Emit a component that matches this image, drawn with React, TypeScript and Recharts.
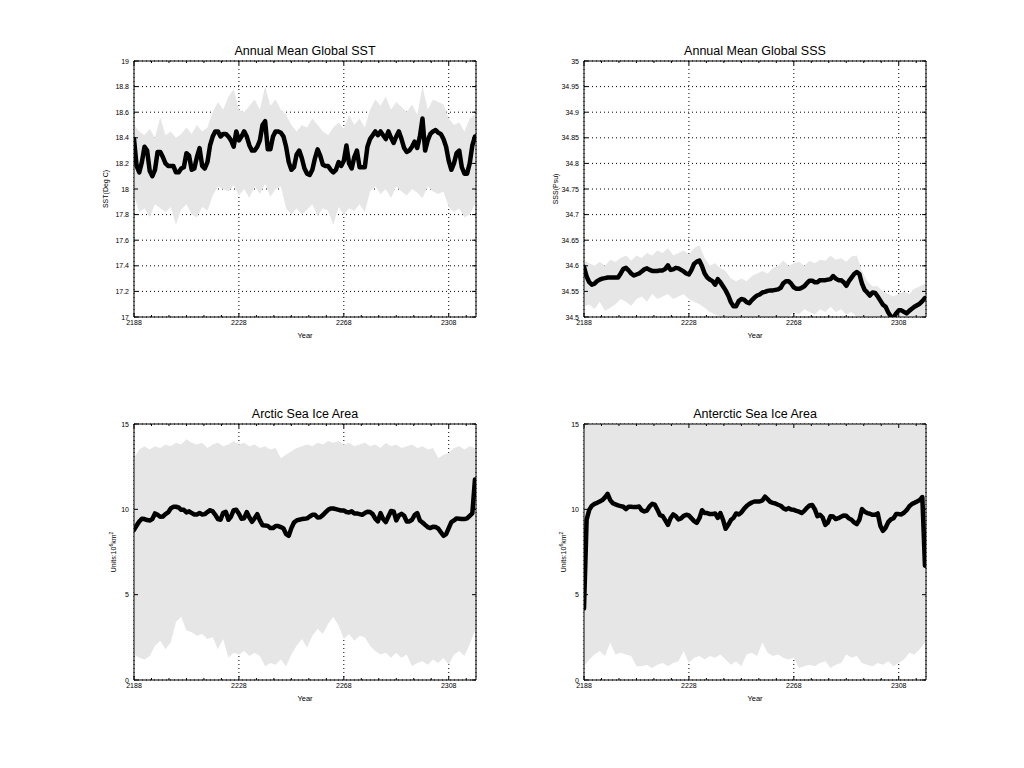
import React from 'react';
import { ComposedChart, Line, Area, XAxis, YAxis, CartesianGrid } from 'recharts';

// ---------- shared axis data ----------
const START_YEAR = 2188;
const X_DOMAIN: [number, number] = [2188, 2318.4];
const X_MAJOR = [2188, 2228, 2268, 2308];
const X_MINOR = [2194.67, 2201.33, 2208, 2214.67, 2221.33, 2234.67, 2241.33, 2248, 2254.67, 2261.33,
  2274.67, 2281.33, 2288, 2294.67, 2301.33, 2314.67];

const SST_TICKS = [17, 17.2, 17.4, 17.6, 17.8, 18, 18.2, 18.4, 18.6, 18.8, 19];
const SSS_TICKS = [34.5, 34.55, 34.6, 34.65, 34.7, 34.75, 34.8, 34.85, 34.9, 34.95, 35];
const ICE_TICKS = [0, 5, 10, 15];

// ---------- smoothed (black) series, one value per year from 2188 ----------
const SST_LINE = [
  18.39, 18.18, 18.13, 18.21, 18.33, 18.30, 18.14, 18.10, 18.15, 18.29,
  18.29, 18.25, 18.20, 18.18, 18.18, 18.18, 18.13, 18.13, 18.16, 18.17,
  18.28, 18.26, 18.15, 18.16, 18.25, 18.32, 18.18, 18.16, 18.21, 18.34,
  18.41, 18.45, 18.45, 18.41, 18.43, 18.43, 18.41, 18.38, 18.33, 18.45,
  18.38, 18.41, 18.45, 18.41, 18.34, 18.30, 18.30, 18.33, 18.38, 18.50,
  18.53, 18.31, 18.31, 18.41, 18.45, 18.45, 18.44, 18.41, 18.33, 18.21,
  18.15, 18.17, 18.27, 18.30, 18.24, 18.16, 18.12, 18.11, 18.15, 18.24,
  18.31, 18.26, 18.19, 18.18, 18.18, 18.15, 18.13, 18.15, 18.21, 18.18,
  18.22, 18.34, 18.20, 18.16, 18.25, 18.30, 18.17, 18.17, 18.17, 18.33,
  18.39, 18.42, 18.45, 18.42, 18.45, 18.42, 18.39, 18.45, 18.40, 18.36,
  18.41, 18.45, 18.39, 18.32, 18.29, 18.30, 18.33, 18.37, 18.32, 18.41,
  18.55, 18.30, 18.38, 18.43, 18.45, 18.46, 18.44, 18.43, 18.39, 18.33,
  18.22, 18.15, 18.20, 18.28, 18.30, 18.17, 18.12, 18.12, 18.20, 18.34,
  18.41,
];

const SSS_LINE = [
  34.598, 34.579, 34.568, 34.563, 34.565, 34.570, 34.573, 34.575, 34.576, 34.577,
  34.577, 34.577, 34.577, 34.577, 34.585, 34.594, 34.596, 34.591, 34.585, 34.581,
  34.583, 34.585, 34.589, 34.593, 34.595, 34.592, 34.590, 34.590, 34.590, 34.591,
  34.591, 34.594, 34.601, 34.592, 34.593, 34.596, 34.595, 34.592, 34.589, 34.585,
  34.583, 34.592, 34.604, 34.608, 34.610, 34.599, 34.585, 34.577, 34.573, 34.570,
  34.563, 34.574, 34.568, 34.560, 34.552, 34.542, 34.529, 34.521, 34.521, 34.531,
  34.535, 34.534, 34.529, 34.527, 34.533, 34.538, 34.542, 34.544, 34.548, 34.549,
  34.551, 34.552, 34.552, 34.553, 34.554, 34.557, 34.566, 34.570, 34.570, 34.565,
  34.558, 34.555, 34.555, 34.557, 34.560, 34.566, 34.571, 34.571, 34.568, 34.568,
  34.572, 34.572, 34.572, 34.573, 34.574, 34.580, 34.575, 34.572, 34.572, 34.568,
  34.561, 34.570, 34.577, 34.584, 34.588, 34.584, 34.565, 34.553, 34.548, 34.542,
  34.548, 34.547, 34.540, 34.532, 34.524, 34.520, 34.509, 34.501, 34.499, 34.507,
  34.513, 34.513, 34.510, 34.507, 34.512, 34.516, 34.520, 34.523, 34.526, 34.531,
  34.537,
];

const ARCTIC_LINE = [
  8.80, 9.05, 9.29, 9.45, 9.43, 9.37, 9.35, 9.43, 9.76, 9.68,
  9.56, 9.58, 9.72, 9.82, 10.05, 10.15, 10.15, 10.11, 9.97, 9.97,
  9.82, 9.88, 9.78, 9.70, 9.70, 9.78, 9.70, 9.72, 9.84, 9.95,
  9.88, 9.68, 9.43, 9.39, 9.80, 9.86, 9.39, 9.58, 9.95, 9.97,
  9.74, 9.45, 9.48, 9.84, 9.52, 9.27, 9.48, 9.72, 9.35, 9.07,
  9.05, 9.03, 8.90, 8.90, 9.02, 9.02, 8.96, 8.88, 8.55, 8.45,
  8.90, 9.23, 9.35, 9.39, 9.43, 9.45, 9.47, 9.58, 9.68, 9.68,
  9.52, 9.54, 9.66, 9.82, 9.97, 10.05, 10.05, 10.01, 9.97, 9.93,
  9.93, 9.84, 9.82, 9.88, 9.76, 9.76, 9.72, 9.68, 9.78, 9.86,
  9.84, 9.72, 9.45, 9.29, 9.78, 9.43, 9.25, 9.58, 9.90, 9.88,
  9.35, 9.64, 9.74, 9.62, 9.29, 9.29, 9.39, 9.66, 9.78, 9.35,
  9.23, 9.09, 8.96, 8.90, 8.98, 8.96, 8.88, 8.66, 8.45, 8.55,
  8.90, 9.25, 9.35, 9.47, 9.45, 9.43, 9.43, 9.47, 9.62, 9.76,
  11.75,
];

const ANTARCTIC_LINE = [
  4.20, 9.40, 9.97, 10.21, 10.32, 10.38, 10.46, 10.54, 10.70, 10.91,
  10.54, 10.36, 10.29, 10.23, 10.19, 10.15, 10.01, 10.15, 10.15, 10.13,
  10.13, 10.17, 9.95, 9.88, 9.93, 10.17, 10.32, 10.27, 9.97, 9.66,
  9.60, 9.35, 9.09, 9.48, 9.70, 9.60, 9.41, 9.47, 9.62, 9.68,
  9.64, 9.47, 9.31, 9.21, 9.48, 9.95, 9.78, 9.78, 9.72, 9.72,
  9.76, 9.50, 9.78, 9.39, 8.86, 9.09, 9.37, 9.50, 9.76, 9.70,
  9.82, 10.03, 10.19, 10.31, 10.40, 10.46, 10.46, 10.46, 10.52, 10.74,
  10.60, 10.44, 10.38, 10.34, 10.27, 10.21, 10.07, 9.99, 10.07, 9.99,
  9.97, 9.91, 9.86, 9.78, 9.91, 10.09, 10.23, 10.25, 10.01, 9.60,
  9.68, 9.52, 9.09, 9.23, 9.60, 9.58, 9.43, 9.48, 9.56, 9.64,
  9.62, 9.47, 9.39, 9.23, 9.13, 9.39, 10.01, 9.86, 9.78, 9.74,
  9.68, 9.68, 9.76, 9.03, 8.74, 8.92, 9.25, 9.41, 9.48, 9.72,
  9.72, 9.70, 9.80, 9.95, 10.17, 10.31, 10.38, 10.46, 10.54, 10.72,
  6.70,
];

// ---------- monthly envelope (grey), low / high every 2 years from 2188 ----------
const SST_LO = [
  17.95, 17.82, 17.85, 17.78, 17.88, 17.85, 17.82, 17.86, 17.72, 17.84,
  17.88, 17.80, 17.78, 17.86, 17.83, 17.95, 18.02, 18.00, 17.98, 18.03,
  17.95, 18.00, 17.93, 18.02, 17.96, 18.04, 17.94, 18.00, 18.02, 17.85,
  17.80, 17.85, 17.80, 17.84, 17.88, 17.79, 17.85, 17.83, 17.72, 17.86,
  17.80, 17.85, 17.83, 17.88, 17.82, 17.98, 18.02, 17.96, 18.00, 17.93,
  18.02, 17.98, 17.95, 18.00, 17.97, 17.93, 18.02, 17.98, 17.96, 17.98,
  17.86, 17.82, 17.85, 17.78, 17.80, 17.88,
];
const SST_HI = [
  18.50, 18.45, 18.42, 18.47, 18.40, 18.56, 18.42, 18.45, 18.40, 18.43,
  18.48, 18.43, 18.50, 18.45, 18.48, 18.60, 18.68, 18.62, 18.72, 18.78,
  18.62, 18.60, 18.65, 18.70, 18.62, 18.80, 18.65, 18.70, 18.62, 18.58,
  18.50, 18.45, 18.50, 18.48, 18.55, 18.50, 18.45, 18.42, 18.48, 18.52,
  18.47, 18.58, 18.50, 18.55, 18.48, 18.62, 18.70, 18.65, 18.72, 18.62,
  18.68, 18.64, 18.60, 18.66, 18.58, 18.80, 18.62, 18.70, 18.68, 18.66,
  18.55, 18.50, 18.52, 18.45, 18.55, 18.58,
];

const SSS_LO = [
  34.520, 34.525, 34.515, 34.530, 34.512, 34.518, 34.525, 34.535, 34.530, 34.522,
  34.535, 34.540, 34.530, 34.545, 34.535, 34.540, 34.545, 34.535, 34.540, 34.545,
  34.535, 34.530, 34.525, 34.518, 34.510, 34.505, 34.500, 34.480, 34.480, 34.480,
  34.480, 34.480, 34.480, 34.480, 34.480, 34.480, 34.480, 34.480, 34.480, 34.500,
  34.510, 34.505, 34.515, 34.510, 34.505, 34.515, 34.510, 34.520, 34.510, 34.515,
  34.505, 34.510, 34.500, 34.480, 34.480, 34.480, 34.480, 34.480, 34.480, 34.480,
  34.480, 34.480, 34.480, 34.480, 34.480, 34.480,
];
const SSS_HI = [
  34.612, 34.605, 34.600, 34.608, 34.600, 34.612, 34.608, 34.615, 34.620, 34.610,
  34.620, 34.615, 34.625, 34.620, 34.630, 34.625, 34.635, 34.620, 34.625, 34.630,
  34.622, 34.635, 34.640, 34.615, 34.600, 34.605, 34.595, 34.590, 34.575, 34.570,
  34.575, 34.570, 34.580, 34.585, 34.590, 34.585, 34.595, 34.600, 34.610, 34.600,
  34.605, 34.608, 34.600, 34.610, 34.605, 34.612, 34.610, 34.620, 34.612, 34.615,
  34.608, 34.618, 34.620, 34.590, 34.570, 34.560, 34.560, 34.550, 34.545, 34.540,
  34.545, 34.550, 34.545, 34.555, 34.560, 34.565,
];

const ARCTIC_LO = [
  1.5, 1.3, 1.2, 1.4, 2.0, 2.3, 1.8, 2.2, 3.4, 3.7,
  2.9, 2.8, 2.6, 2.7, 2.4, 2.5, 1.8, 2.4, 1.3, 1.6,
  1.5, 1.7, 1.4, 1.6, 1.4, 0.8, 1.0, 0.9, 1.2, 0.8,
  1.5, 2.0, 2.4, 1.9, 2.6, 3.0, 2.7, 3.3, 3.7, 3.2,
  2.4, 2.7, 2.3, 2.6, 2.5, 2.0, 1.7, 1.5, 1.6, 1.3,
  1.6, 1.3, 1.5, 0.8, 1.0, 1.1, 0.9, 1.2, 1.0, 1.3,
  0.9, 1.5, 1.7, 1.4, 2.1, 2.9,
];
const ARCTIC_HI = [
  13.0, 13.5, 13.7, 13.5, 13.7, 13.6, 13.8, 13.7, 13.9, 13.8,
  14.1, 13.9, 13.8, 13.9, 13.6, 13.8, 13.9, 13.7, 13.8, 14.0,
  13.8, 13.9, 13.7, 13.8, 13.6, 13.7, 13.5, 13.6, 13.0, 13.2,
  13.4, 13.6, 13.7, 13.8, 13.7, 13.9, 13.8, 14.0, 13.9, 14.0,
  13.8, 13.9, 13.7, 13.8, 13.9, 13.7, 13.8, 13.6, 13.9, 13.7,
  13.8, 13.6, 13.7, 13.8, 13.6, 13.7, 13.5, 13.6, 13.0, 13.2,
  13.3, 13.6, 13.7, 13.5, 13.7, 13.6,
];

const ANTARCTIC_LO = [
  0.8, 1.2, 1.5, 1.7, 1.4, 2.2, 1.5, 1.6, 1.5, 1.4,
  0.8, 0.8, 0.9, 0.7, 0.9, 1.0, 0.8, 1.0, 1.1, 1.7,
  1.0, 1.3, 1.4, 1.2, 1.4, 1.3, 1.5, 1.2, 0.9, 1.1,
  0.8, 1.5, 1.6, 1.4, 2.2, 1.6, 1.4, 1.5, 1.3, 1.2,
  1.3, 0.7, 0.8, 0.9, 0.8, 1.0, 1.1, 0.7, 0.9, 1.0,
  1.5, 1.3, 1.4, 1.0, 0.9, 0.8, 1.0, 0.9, 1.1, 0.8,
  1.0, 1.2, 1.6, 1.5, 1.8, 2.2,
];
const ANTARCTIC_HI = [
  17.6, 18.1, 18.3, 18.0, 18.4, 18.2, 18.5, 18.1, 17.9, 18.2,
  18.0, 17.8, 18.1, 17.9, 18.2, 18.0, 18.3, 18.1, 17.9, 18.2,
  18.0, 18.1, 17.8, 18.0, 18.2, 18.4, 18.1, 17.9, 17.7, 18.0,
  18.1, 18.2, 18.3, 18.1, 18.4, 18.2, 18.0, 17.9, 18.1, 18.0,
  17.8, 17.9, 18.1, 18.0, 18.2, 18.1, 17.9, 17.8, 18.0, 18.1,
  18.2, 18.0, 17.9, 17.8, 18.0, 18.1, 18.2, 18.0, 17.9, 17.8,
  18.0, 18.2, 18.3, 18.1, 18.4, 18.2,
];

// ---------- layout ----------
const FONT = '"Liberation Sans", Arial, Helvetica, sans-serif';
const PLOT_W = 342;
const PLOT_H = 256;
const AXIS_W = 50;
const MT = 4;
const MR = 4;
const XAX_H = 30;
const GREY = '#e6e6e6';

type PanelProps = {
  plotLeft: number;
  plotTop: number;
  yDomain: [number, number];
  yTicks: number[];
  line: number[];
  lo: number[];
  hi: number[];
};

function Panel({ plotLeft, plotTop, yDomain, yTicks, line, lo, hi }: PanelProps) {
  const lineData = line.map((v, i) => ({ year: START_YEAR + i, v }));
  const bandData = lo.map((l, i) => ({ year: START_YEAR + 2 * i, band: [l, hi[i]] }));
  const chartW = AXIS_W + PLOT_W + 1 + MR;
  const chartH = MT + 1 + PLOT_H + XAX_H;
  const majorSet = new Set(X_MAJOR);

  const xLabel = (p: any) => (
    <text x={p.x} y={p.y + 8} textAnchor="middle" fontSize={7} fontFamily={FONT} fill="#000">
      {p.payload.value}
    </text>
  );
  const yLabel = (p: any) => (
    <text x={p.x - 5} y={p.y + 2.5} textAnchor="end" fontSize={7} fontFamily={FONT} fill="#000">
      {p.payload.value}
    </text>
  );
  const topTick = (p: any) => {
    const len = majorSet.has(p.payload.value) ? 4 : 2;
    return (
      <g>
        <line x1={p.x} y1={p.y} x2={p.x} y2={p.y + len} stroke="#000" strokeWidth={1} />
        <line x1={p.x} y1={p.y + PLOT_H} x2={p.x} y2={p.y + PLOT_H - len} stroke="#000" strokeWidth={1} />
      </g>
    );
  };
  const rightTick = (p: any) => (
    <g>
      <line x1={p.x} y1={p.y} x2={p.x - 4} y2={p.y} stroke="#000" strokeWidth={1} />
      <line x1={p.x - PLOT_W} y1={p.y} x2={p.x - PLOT_W + 4} y2={p.y} stroke="#000" strokeWidth={1} />
    </g>
  );

  return (
    <div style={{ position: 'absolute', left: plotLeft - AXIS_W, top: plotTop - MT - 1 }}>
      <ComposedChart width={chartW} height={chartH} margin={{ top: MT, right: MR, bottom: 0, left: 0 }}>
        <CartesianGrid stroke="#000" strokeDasharray="1 3" strokeWidth={1} />
        <XAxis
          dataKey="year"
          type="number"
          domain={X_DOMAIN}
          allowDataOverflow
          ticks={X_MAJOR}
          interval={0}
          tickLine={false}
          tickSize={0}
          tickMargin={0}
          tick={xLabel}
          height={XAX_H}
          axisLine={{ stroke: '#000', strokeWidth: 1 }}
        />
        <XAxis
          xAxisId="top"
          orientation="top"
          dataKey="year"
          type="number"
          domain={X_DOMAIN}
          allowDataOverflow
          ticks={[...X_MAJOR, ...X_MINOR].sort((a, b) => a - b)}
          interval={0}
          tickLine={false}
          tickSize={0}
          tickMargin={0}
          tick={topTick}
          height={1}
          axisLine={{ stroke: '#000', strokeWidth: 1 }}
        />
        <YAxis
          type="number"
          domain={yDomain}
          allowDataOverflow
          ticks={yTicks}
          interval={0}
          tickLine={false}
          tickSize={0}
          tickMargin={0}
          tick={yLabel}
          width={AXIS_W}
          axisLine={{ stroke: '#000', strokeWidth: 1 }}
        />
        <YAxis
          yAxisId="right"
          orientation="right"
          type="number"
          domain={yDomain}
          allowDataOverflow
          ticks={yTicks}
          interval={0}
          tickLine={false}
          tickSize={0}
          tickMargin={0}
          tick={rightTick}
          width={1}
          axisLine={{ stroke: '#000', strokeWidth: 1 }}
        />
        <Area
          data={bandData}
          dataKey="band"
          type="linear"
          fill={GREY}
          fillOpacity={1}
          stroke="none"
          dot={false}
          activeDot={false}
          isAnimationActive={false}
        />
        <Line
          data={lineData}
          dataKey="v"
          type="linear"
          stroke="#000"
          strokeWidth={4.5}
          strokeLinejoin="round"
          strokeLinecap="round"
          dot={false}
          activeDot={false}
          isAnimationActive={false}
        />
      </ComposedChart>
    </div>
  );
}

const PANELS = [
  { left: 134, top: 61, title: 'Annual Mean Global SST', ylabel: 'SST(Deg C)', units: false },
  { left: 584, top: 61, title: 'Annual Mean Global SSS', ylabel: 'SSS(Psu)', units: false },
  { left: 134, top: 424, title: 'Arctic Sea Ice Area', ylabel: '', units: true },
  { left: 584, top: 424, title: 'Anterctic Sea Ice Area', ylabel: '', units: true },
];

function Overlay() {
  return (
    <svg
      width={1024}
      height={768}
      style={{ position: 'absolute', left: 0, top: 0, pointerEvents: 'none' }}
      fontFamily={FONT}
    >
      {PANELS.map((p, i) => {
        const cx = p.left + PLOT_W / 2;
        const cy = p.top + PLOT_H / 2;
        const lx = p.units ? p.left - 21 : p.left - 29;
        return (
          <g key={i}>
            <text x={cx} y={p.top - 6.5} textAnchor="middle" fontSize={12.5} fill="#000">
              {p.title}
            </text>
            <text x={cx} y={p.top + PLOT_H + 21} textAnchor="middle" fontSize={7.5} fill="#000">
              Year
            </text>
            {p.units ? (
              <text
                transform={`translate(${lx + 2.5},${cy}) rotate(-90)`}
                textAnchor="middle"
                fontSize={7}
                fill="#000"
              >
                Units:10
                <tspan dy={-3} fontSize={5}>6</tspan>
                <tspan dy={3}>km</tspan>
                <tspan dy={-3} fontSize={5}>2</tspan>
              </text>
            ) : (
              <text
                transform={`translate(${lx + 2.5},${cy}) rotate(-90)`}
                textAnchor="middle"
                fontSize={7}
                fill="#000"
              >
                {p.ylabel}
              </text>
            )}
          </g>
        );
      })}
    </svg>
  );
}

export default function App() {
  return (
    <div style={{ position: 'absolute', left: 0, top: 0, width: 1024, height: 768, background: '#fff' }}>
      <Panel plotLeft={134} plotTop={61} yDomain={[17, 19]} yTicks={SST_TICKS} line={SST_LINE} lo={SST_LO} hi={SST_HI} />
      <Panel plotLeft={584} plotTop={61} yDomain={[34.5, 35]} yTicks={SSS_TICKS} line={SSS_LINE} lo={SSS_LO} hi={SSS_HI} />
      <Panel plotLeft={134} plotTop={424} yDomain={[0, 15]} yTicks={ICE_TICKS} line={ARCTIC_LINE} lo={ARCTIC_LO} hi={ARCTIC_HI} />
      <Panel plotLeft={584} plotTop={424} yDomain={[0, 15]} yTicks={ICE_TICKS} line={ANTARCTIC_LINE} lo={ANTARCTIC_LO} hi={ANTARCTIC_HI} />
      <Overlay />
    </div>
  );
}
